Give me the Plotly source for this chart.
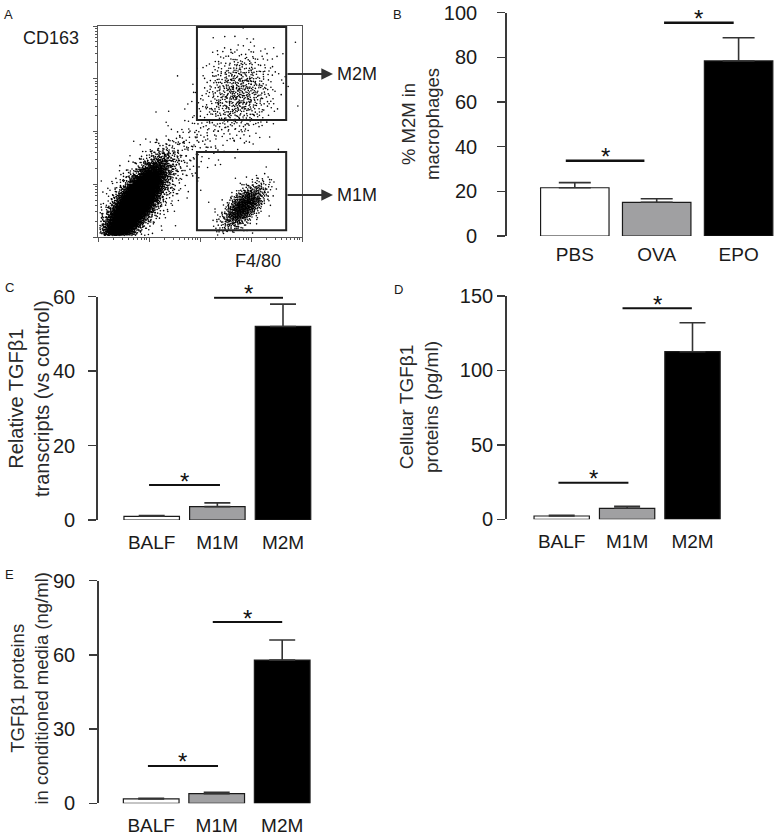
import numpy as np
import plotly.graph_objects as go

W, H = 776, 840
FONT = "Liberation Sans, Arial, Helvetica, sans-serif"
TXT = "#1a1a1a"

# ---------------- Panel A : flow cytometry populations (log10 decades) ----------------
flow_pop_names = ["main", "main_halo", "M2M", "M1M", "bridge", "sparse"]
flow_cx = [0.72, 0.85, 2.76, 2.86, 1.95, 2.2]          # F4/80 centre (decades)
flow_cy = [0.62, 0.78, 2.74, 0.58, 1.85, 1.6]          # CD163 centre (decades)
flow_sd_major = [0.42, 0.55, 0.42, 0.28, 0.40, 0.9]
flow_sd_minor = [0.14, 0.25, 0.34, 0.13, 0.30, 0.7]
flow_angle = [55, 50, 75, 45, 45, 45]                  # orientation of long axis (deg)
flow_n = [9000, 1300, 700, 900, 100, 25]

gate_names = ["M2M", "M1M"]
gate_x0 = [1.94, 1.94]
gate_x1 = [3.69, 3.69]
gate_y0 = [2.22, 0.13]
gate_y1 = [3.98, 1.61]
gate_arrow_px_y = [74, 195]
gate_arrow_tip_px = 333

# ---------------- Panel B ----------------
b_categories = ["PBS", "OVA", "EPO"]
b_values = [21.6, 15.1, 78.4]
b_errors = [2.3, 1.6, 10.4]
b_ticks = [0, 20, 40, 60, 80, 100]
b_sig_x0 = [-0.11, 1.09]
b_sig_x1 = [0.85, 1.94]
b_sig_y = [33.7, 95.5]

# ---------------- Panel C ----------------
c_categories = ["BALF", "M1M", "M2M"]
c_values = [1.0, 3.6, 52.0]
c_errors = [0.2, 1.0, 6.0]
c_ticks = [0, 20, 40, 60]
c_sig_x0 = [-0.04, 0.95]
c_sig_x1 = [1.04, 2.0]
c_sig_y = [9.4, 59.8]

# ---------------- Panel D ----------------
d_categories = ["BALF", "M1M", "M2M"]
d_values = [2.2, 7.4, 112.6]
d_errors = [0.5, 1.3, 19.4]
d_ticks = [0, 50, 100, 150]
d_sig_x0 = [-0.05, 0.93]
d_sig_x1 = [1.02, 1.99]
d_sig_y = [24.6, 141.7]

# ---------------- Panel E ----------------
e_categories = ["BALF", "M1M", "M2M"]
e_values = [1.75, 3.9, 57.9]
e_errors = [0.25, 0.55, 8.1]
e_ticks = [0, 30, 60, 90]
e_sig_x0 = [-0.05, 0.94]
e_sig_x1 = [1.02, 2.0]
e_sig_y = [15.1, 73.3]

bar_fill = ["#ffffff", "#a0a0a2", "#000000"]


def px_x(p):
    return p / W


def px_y(p):
    return 1 - p / H


def halton(n, base, skip):
    out = np.empty(n)
    for i in range(n):
        f, r, k = 1.0, 0.0, i + skip
        while k > 0:
            f /= base
            r += f * (k % base)
            k //= base
        out[i] = r
    return out


fig = go.Figure()

# ---- Panel A dots (deterministic quasi-uniform sampling of each population's shape) ----
xs, ys = [], []
skip = 17
for cx, cy, sa, sb, ang, n in zip(flow_cx, flow_cy, flow_sd_major, flow_sd_minor, flow_angle, flow_n):
    u1 = halton(n, 2, skip)
    u2 = halton(n, 3, skip)
    skip += n + 11
    rad = np.sqrt(-2 * np.log(np.clip(u1, 1e-9, 1)))
    g1 = rad * np.cos(2 * np.pi * u2)
    g2 = rad * np.sin(2 * np.pi * u2)
    t = np.deg2rad(ang)
    dx = g1 * sa * np.cos(t) - g2 * sb * np.sin(t)
    dy = g1 * sa * np.sin(t) + g2 * sb * np.cos(t)
    xs.append(cx + dx)
    ys.append(cy + dy)
xs = np.concatenate(xs)
ys = np.concatenate(ys)
keep = (xs > 0.03) & (xs < 3.97) & (ys > 0.03) & (ys < 3.97)
fig.add_trace(go.Scatter(x=xs[keep], y=ys[keep], mode="markers",
                         marker=dict(size=1.6, color="#000000", line=dict(width=0)),
                         xaxis="x", yaxis="y", hoverinfo="skip"))

minor_vals = [d + np.log10(k) for d in range(4) for k in range(2, 10)]

layout = dict(
    width=W, height=H, margin=dict(l=0, r=0, t=0, b=0, pad=0, autoexpand=False),
    paper_bgcolor="white", plot_bgcolor="white", showlegend=False,
    font=dict(family=FONT, color=TXT, size=19),
    xaxis=dict(domain=[px_x(98), px_x(302)], range=[0, 4], showline=True, mirror=True,
               linecolor="#555", linewidth=1, ticks="outside", ticklen=4, tickcolor="#555",
               tickvals=[0, 1, 2, 3, 4], showticklabels=False, showgrid=False, zeroline=False,
               minor=dict(tickvals=minor_vals, ticks="outside", ticklen=2, tickcolor="#555"),
               anchor="y", automargin=False),
    yaxis=dict(domain=[px_y(237), px_y(26)], range=[0, 4], showline=True, mirror=True,
               linecolor="#555", linewidth=1, ticks="outside", ticklen=4, tickcolor="#555",
               tickvals=[0, 1, 2, 3, 4], showticklabels=False, showgrid=False, zeroline=False,
               minor=dict(tickvals=minor_vals, ticks="outside", ticklen=2, tickcolor="#555"),
               anchor="x", automargin=False),
)

shapes = []
annotations = []
for gx0, gx1, gy0, gy1, apy, name in zip(gate_x0, gate_x1, gate_y0, gate_y1, gate_arrow_px_y, gate_names):
    shapes.append(dict(type="rect", xref="x", yref="y", x0=gx0, x1=gx1, y0=gy0, y1=gy1,
                       line=dict(color="#222", width=2), fillcolor="rgba(0,0,0,0)"))
    annotations.append(dict(xref="paper", yref="paper", x=px_x(gate_arrow_tip_px), y=px_y(apy),
                            ax=-47, ay=0, text="", showarrow=True, arrowhead=2, arrowsize=1.3,
                            arrowwidth=1.8, arrowcolor="#333"))
    annotations.append(dict(xref="paper", yref="paper", x=px_x(gate_arrow_tip_px + 2), y=px_y(apy),
                            text=name, showarrow=False, xanchor="left", yanchor="middle",
                            font=dict(size=18, color=TXT)))
annotations.append(dict(xref="paper", yref="paper", x=px_x(81), y=px_y(38), text="CD163",
                        showarrow=False, xanchor="right", yanchor="middle", font=dict(size=18)))
annotations.append(dict(xref="paper", yref="paper", x=px_x(258), y=px_y(261), text="F4/80",
                        showarrow=False, xanchor="center", yanchor="middle", font=dict(size=18)))

# ---- bar panels ----
panels = [
    dict(i=2, cats=b_categories, vals=b_values, errs=b_errors, ticks=b_ticks, ymax=100,
         ax=506.7, pitch=81.9, off=68.1, right=776, ytop=12.7, ybot=236, bw=0.836, cap=16,
         ystand=16, xstand=5, sx0=b_sig_x0, sx1=b_sig_x1, sy=b_sig_y, sw=[2.6, 2.6],
         title="% M2M in<br>macrophages", tcx=420, tcy=124, tfs=18.5),
    dict(i=3, cats=c_categories, vals=c_values, errs=c_errors, ticks=c_ticks, ymax=60,
         ax=97.7, pitch=65.65, off=54.0, right=330, ytop=296.7, ybot=520, bw=0.845, cap=13,
         ystand=9, xstand=9, sx0=c_sig_x0, sx1=c_sig_x1, sy=c_sig_y, sw=[2.0, 2.6],
         title="Relative TGFβ1<br>transcripts (vs control)", tcx=29, tcy=399, tfs=20),
    dict(i=4, cats=d_categories, vals=d_values, errs=d_errors, ticks=d_ticks, ymax=150,
         ax=506.7, pitch=65.4, off=55.0, right=740, ytop=296, ybot=519.3, bw=0.846, cap=13,
         ystand=0, xstand=9, sx0=d_sig_x0, sx1=d_sig_x1, sy=d_sig_y, sw=[2.0, 2.0],
         title="Celluar TGFβ1<br>proteins (pg/ml)", tcx=419, tcy=407, tfs=19),
    dict(i=5, cats=e_categories, vals=e_values, errs=e_errors, ticks=e_ticks, ymax=90,
         ax=98.7, pitch=65.5, off=52.5, right=330, ytop=580.7, ybot=803.3, bw=0.85, cap=13,
         ystand=10, xstand=9, sx0=e_sig_x0, sx1=e_sig_x1, sy=e_sig_y, sw=[2.0, 2.0],
         title="TGFβ1 proteins<br>in conditioned media (ng/ml)", tcx=28.5, tcy=689, tfs=18.5),
]

for p in panels:
    i = p["i"]
    xa, ya = f"x{i}", f"y{i}"
    x_lo = -p["off"] / p["pitch"]
    x_hi = (p["right"] - p["ax"]) / p["pitch"] + x_lo
    layout[f"xaxis{i}"] = dict(domain=[px_x(p["ax"]), px_x(p["right"])], range=[x_lo, x_hi],
                               showline=False, ticks="", tickvals=list(range(len(p["cats"]))),
                               ticktext=p["cats"], tickfont=dict(size=19, color=TXT),
                               ticklabelstandoff=p["xstand"], showgrid=False, zeroline=False,
                               anchor=ya, automargin=False)
    layout[f"yaxis{i}"] = dict(domain=[px_y(p["ybot"]), px_y(p["ytop"])], range=[0, p["ymax"]],
                               showline=True, linecolor="#3a3a3a", linewidth=1.5,
                               ticks="outside", ticklen=8, tickwidth=1.5, tickcolor="#3a3a3a",
                               tickvals=p["ticks"], tickfont=dict(size=20, color=TXT),
                               ticklabelstandoff=p["ystand"], showgrid=False, zeroline=False,
                               anchor=xa, automargin=False)
    fig.add_trace(go.Bar(x=list(range(len(p["cats"]))), y=p["vals"], width=p["bw"],
                         marker=dict(color=bar_fill, line=dict(color="#1a1a1a", width=1.2)),
                         error_y=dict(type="data", array=p["errs"], arrayminus=[0] * len(p["errs"]),
                                      symmetric=False, color="#333", thickness=1.6, width=p["cap"]),
                         xaxis=xa, yaxis=ya, hoverinfo="skip"))
    for x0, x1, y, w in zip(p["sx0"], p["sx1"], p["sy"], p["sw"]):
        fig.add_trace(go.Scatter(x=[x0, x1], y=[y, y], mode="lines",
                                 line=dict(color="#111", width=w), xaxis=xa, yaxis=ya,
                                 hoverinfo="skip", cliponaxis=False))
        annotations.append(dict(xref=xa, yref=ya, x=(x0 + x1) / 2, y=y, text="*",
                                showarrow=False, xanchor="center", yanchor="middle", yshift=4,
                                font=dict(size=24, color="#111")))
    annotations.append(dict(xref="paper", yref="paper", x=px_x(p["tcx"]), y=px_y(p["tcy"]),
                            text=p["title"], textangle=-90, showarrow=False,
                            xanchor="center", yanchor="middle",
                            font=dict(size=p["tfs"], color="#2a2a2a")))

panel_letters = ["A", "B", "C", "D", "E"]
letter_px = [(8, 14), (398, 14), (9, 287), (399, 289), (9, 574)]
for lab, (lx, ly) in zip(panel_letters, letter_px):
    annotations.append(dict(xref="paper", yref="paper", x=px_x(lx), y=px_y(ly), text=lab,
                            showarrow=False, xanchor="center", yanchor="middle",
                            font=dict(size=13, color=TXT)))

layout["shapes"] = shapes
layout["annotations"] = annotations
fig.update_layout(**layout)
# remove the browser's default 8px body margin so the 776x840 figure fills the window exactly
fig.write_html("out.html", config={"displayModeBar": False, "staticPlot": True},
               post_script="document.body.style.margin='0px';document.body.style.overflow='hidden';")
